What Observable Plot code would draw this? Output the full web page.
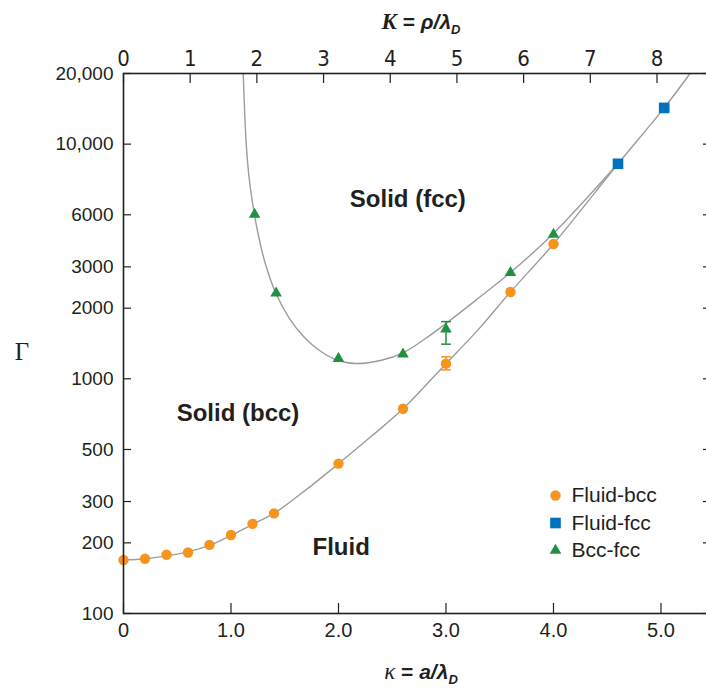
<!DOCTYPE html>
<html>
<head>
<meta charset="utf-8">
<script src="https://cdn.jsdelivr.net/npm/d3@7"></script>
<script src="https://cdn.jsdelivr.net/npm/@observablehq/plot@0.6"></script>
<style>
  html, body { margin: 0; padding: 0; background: #fff; overflow: hidden; }
  #chart svg { display: block; overflow: hidden; }
</style>
</head>
<body>
<div id="chart"></div>
<script>
// ---- data ----
// Fluid-bcc melting points (orange circles)
const kappaFluidBcc = [0, 0.2, 0.4, 0.6, 0.8, 1.0, 1.2, 1.4, 2.0, 2.6, 3.0, 3.6, 4.0];
const gammaFluidBcc = [169, 171, 178, 182, 196, 216, 241, 267, 435, 745, 1160, 2345, 3755];
// Fluid-fcc (blue squares)
const kappaFluidFcc = [4.6, 5.03];
const gammaFluidFcc = [8245, 14270];
// Bcc-fcc (green triangles)
const kappaBccFcc = [1.22, 1.42, 2.0, 2.6, 3.0, 3.6, 4.0];
const gammaBccFcc = [5020, 2316, 1220, 1274, 1627, 2834, 4128];
// error bars at kappa = 3
const errSeries = ["Fluid-bcc", "Bcc-fcc"];
const errKappa = [3.0, 3.0];
const errLow = [1092, 1405];
const errHigh = [1241, 1753];
// fitted phase boundaries (gray curves)
const fluidCurveKappa = [0, 0.2, 0.4, 0.6, 0.8, 1.0, 1.2, 1.4, 1.7, 2.0, 2.3, 2.6, 3.0, 3.3, 3.6, 4.0, 4.6, 5.03, 5.27];
const fluidCurveGamma = [169, 171, 176, 183, 195, 215, 240, 267, 337, 435, 566, 745, 1160, 1620, 2345, 3755, 8245, 14270, 20000];
const bccCurveKappa = [1.1135, 1.1228, 1.1349, 1.1526, 1.1795, 1.2167, 1.2614, 1.3163, 1.414, 1.5442, 1.6837, 1.8233, 1.9628, 2.1581, 2.3907, 2.6047, 2.8093, 3.0, 3.2977, 3.6, 3.9907, 4.2977, 4.598];
const bccCurveGamma = [20000, 15346, 11432, 8517, 6535, 5063, 3962, 3131, 2333, 1807, 1500, 1320, 1215, 1162, 1197, 1294, 1485, 1721, 2199, 2838, 4121, 5809, 8245];
// ticks
const xTicks = [0, 1, 2, 3, 4, 5];
const xTickLabels = ["0", "1.0", "2.0", "3.0", "4.0", "5.0"];
const yTicks = [100, 200, 300, 500, 1000, 2000, 3000, 5000, 10000, 20000];
const yTickLabels = ["100", "200", "300", "500", "1000", "2000", "3000", "6000", "10,000", "20,000"];
const kTicks = [0, 1, 2, 3, 4, 5, 6, 7, 8];
const kTickLabels = ["0", "1", "2", "3", "4", "5", "6", "7", "8"];
// region labels
const regionLabels = ["Solid (fcc)", "Solid (bcc)", "Fluid"];
const regionKappa = [2.645, 1.065, 2.025];
const regionGamma = [5800, 716, 191];
// legend
const legendLabels = ["Fluid-bcc", "Fluid-fcc", "Bcc-fcc"];
const legendSymbols = ["circle", "square", "triangle"];

// ---- styling ----
const colors = {"Fluid-bcc": "#f7941d", "Fluid-fcc": "#0071bc", "Bcc-fcc": "#1f9140"};
const ink = "#231f20";
const font = "'Liberation Sans', Arial, Helvetica, sans-serif";
const W = 706, H = 691;
const mL = 123, mR = -5, mT = 73, mB = 78;
const frameW = W - mL - mR, frameH = H - mT - mB;
const ratio = Math.cbrt(4 * Math.PI / 3); // K = rho/lambda_D = kappa * (4pi/3)^(1/3)
const symR = {circle: 5.2, square: 6.0, triangle: 4.3};

const fluidBcc = kappaFluidBcc.map((k, i) => ({k, g: gammaFluidBcc[i]}));
const fluidFcc = kappaFluidFcc.map((k, i) => ({k, g: gammaFluidFcc[i]}));
const bccFcc = kappaBccFcc.map((k, i) => ({k, g: gammaBccFcc[i]}));
const errs = errSeries.map((s, i) => ({s, k: errKappa[i], lo: errLow[i], hi: errHigh[i]}));
const fluidCurve = fluidCurveKappa.map((k, i) => ({k, g: fluidCurveGamma[i]}));
const bccCurve = bccCurveKappa.map((k, i) => ({k, g: bccCurveGamma[i]}));
const regions = regionLabels.map((t, i) => ({t, k: regionKappa[i], g: regionGamma[i]}));
const kPos = kTicks.map(k => k / ratio);

const capSymbol = {draw(ctx, size) { const w = Math.sqrt(size); ctx.moveTo(-w / 2, 0); ctx.lineTo(w / 2, 0); }};

const legendMarks = legendLabels.flatMap((label, i) => [
  Plot.dot([label], {frameAnchor: "top-left", dx: 432, dy: 422 + i * 27.5, symbol: legendSymbols[i],
    r: symR[legendSymbols[i]], fill: colors[label], stroke: "none"}),
  Plot.text([label], {frameAnchor: "top-left", dx: 448, dy: 422 + i * 27.5, text: d => d,
    textAnchor: "start", lineAnchor: "middle", fill: ink, fontSize: 21, fontFamily: font})
]);

const chart = Plot.plot({
  width: W, height: H,
  marginLeft: mL, marginRight: mR, marginTop: mT, marginBottom: mB,
  x: {domain: [0, 5.47], axis: null},
  y: {type: "log", domain: [100, 20000], axis: null},
  style: {fontFamily: font, background: "#fff"},
  marks: [
    Plot.line(fluidCurve, {x: "k", y: "g", curve: "catmull-rom", stroke: "#9c9c9c", strokeWidth: 1.4}),
    Plot.line(bccCurve, {x: "k", y: "g", curve: "catmull-rom", stroke: "#9c9c9c", strokeWidth: 1.4}),
    Plot.ruleX(errs, {x: "k", y1: "lo", y2: "hi", stroke: d => colors[d.s], strokeWidth: 1.5}),
    Plot.dot(errs, {x: "k", y: "lo", symbol: capSymbol, r: 5.6, stroke: d => colors[d.s], strokeWidth: 1.5, fill: "none"}),
    Plot.dot(errs, {x: "k", y: "hi", symbol: capSymbol, r: 5.6, stroke: d => colors[d.s], strokeWidth: 1.5, fill: "none"}),
    Plot.dot(fluidBcc, {x: "k", y: "g", r: symR.circle, fill: colors["Fluid-bcc"], stroke: "none"}),
    Plot.dot(fluidFcc, {x: "k", y: "g", symbol: "square", r: symR.square, fill: colors["Fluid-fcc"], stroke: "none"}),
    Plot.dot(bccFcc, {x: "k", y: "g", symbol: "triangle", r: symR.triangle, fill: colors["Bcc-fcc"], stroke: "none"}),
    Plot.text(regions, {x: "k", y: "g", text: "t", fontSize: 24, fontWeight: "bold", fill: ink, fontFamily: font}),
    Plot.frame({stroke: ink, strokeWidth: 1.6}),
    Plot.tickY(yTicks, {y: d => d, insetRight: frameW - 8, stroke: ink, strokeWidth: 1.2}),
    Plot.tickY(yTicks, {y: d => d, insetLeft: frameW - 8, stroke: ink, strokeWidth: 1.2}),
    Plot.tickX(xTicks, {x: d => d, insetTop: frameH - 10, stroke: ink, strokeWidth: 1.2}),
    Plot.tickX(kPos, {x: d => d, insetBottom: frameH - 10, stroke: ink, strokeWidth: 1.2}),
    Plot.text(yTicks, {y: d => d, text: (d, i) => yTickLabels[i], frameAnchor: "left", textAnchor: "end", dx: -10, fontSize: 19, fill: ink, fontFamily: font}),
    Plot.text(xTicks, {x: d => d, text: (d, i) => xTickLabels[i], frameAnchor: "bottom", lineAnchor: "top", dy: 9, fontSize: 20, fill: ink, fontFamily: font}),
    Plot.text(kPos, {x: d => d, text: (d, i) => kTickLabels[i], frameAnchor: "top", lineAnchor: "bottom", dy: -8, fontSize: 22, fill: ink, fontFamily: "'Liberation Sans Narrow', 'DejaVu Sans Condensed', " + font}),
    ...legendMarks
  ]
});

document.getElementById("chart").appendChild(chart);

// axis titles with italic Greek letters and subscripts
const svgSel = d3.select(chart);
const topTitle = svgSel.append("text").attr("x", 421).attr("y", 29).attr("text-anchor", "middle")
  .attr("fill", ink).attr("font-size", 21).attr("font-family", font);
topTitle.append("tspan").attr("font-family", "'Liberation Serif', 'Times New Roman', serif").attr("font-style", "italic").attr("font-weight", "bold").attr("font-size", 23).text("K");
topTitle.append("tspan").attr("font-weight", "bold").text(" = ");
topTitle.append("tspan").attr("font-style", "italic").attr("font-weight", "bold").text("ρ/λ");
topTitle.append("tspan").attr("font-style", "italic").attr("font-weight", "bold").attr("font-size", 13).attr("dy", 5).text("D");

const botTitle = svgSel.append("text").attr("x", 421).attr("y", 679).attr("text-anchor", "middle")
  .attr("fill", ink).attr("font-size", 21).attr("font-family", font);
botTitle.append("tspan").attr("font-family", "'Liberation Serif', 'Times New Roman', serif").attr("font-style", "italic").attr("font-size", 23).text("κ");
botTitle.append("tspan").attr("font-weight", "bold").text(" = ");
botTitle.append("tspan").attr("font-style", "italic").attr("font-weight", "bold").text("a/λ");
botTitle.append("tspan").attr("font-style", "italic").attr("font-weight", "bold").attr("font-size", 13).attr("dy", 5).text("D");

svgSel.append("text").attr("x", 22).attr("y", 360).attr("text-anchor", "middle")
  .attr("fill", ink).attr("font-size", 25).attr("font-family", "'Liberation Serif', 'Times New Roman', serif")
  .text("Γ");
</script>
</body>
</html>
